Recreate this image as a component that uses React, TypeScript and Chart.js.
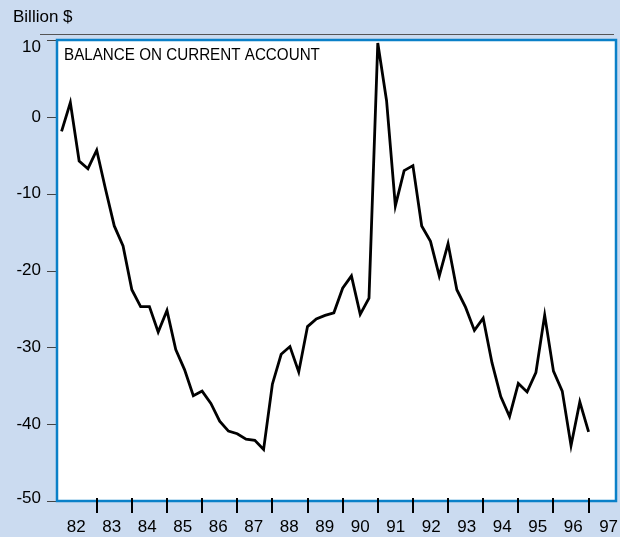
import React, { useEffect, useRef } from "react";
import { Chart, registerables } from "chart.js";

Chart.register(...registerables);

// Quarterly balance on current account, billion $, from 1982 Q1
const startYear = 82;
const balance: number[] = [
  -1.9, 1.85, -5.75, -6.75, -4.35, -9.4, -14.2, -16.8, -22.5, -24.7,
  -24.7, -28.0, -25.2, -30.3, -32.9, -36.3, -35.7, -37.3, -39.6, -40.9,
  -41.25, -41.95, -42.1, -43.3, -34.8, -30.9, -29.9, -33.2, -27.3, -26.3,
  -25.85, -25.5, -22.3, -20.7, -25.7, -23.6, 9.6, 2.1, -11.6, -7.0,
  -6.35, -14.2, -16.2, -20.7, -16.5, -22.5, -24.8, -27.8, -26.2, -32.0,
  -36.4, -39.0, -34.7, -35.8, -33.3, -25.8, -33.1, -35.7, -42.8, -37.1,
  -41.0,
];
const yearLabels: string[] = [
  "82", "83", "84", "85", "86", "87", "88", "89", "90", "91", "92", "93", "94", "95", "96", "97",
];
const yTicks: number[] = [10, 0, -10, -20, -30, -40, -50];
const unitLabel = "Billion $";
const titleText = "BALANCE ON CURRENT ACCOUNT";

const FONT = "'Liberation Sans', Arial, Helvetica, sans-serif";
const BG = "#cbdbf0";
const BLUE = "#0a80c8";

export default function App() {
  const canvasRef = useRef<HTMLCanvasElement | null>(null);

  useEffect(() => {
    const canvas = canvasRef.current;
    if (!canvas) return;
    const points = balance.map((v, i) => ({ x: startYear + i / 4, y: v }));

    const decor = {
      id: "decor",
      beforeDraw(chart: any) {
        const { ctx, chartArea: a } = chart;
        ctx.save();
        ctx.fillStyle = BG;
        ctx.fillRect(0, 0, chart.width, chart.height);
        ctx.fillStyle = "#ffffff";
        ctx.fillRect(a.left, a.top, a.right - a.left, a.bottom - a.top);
        // thin grey rule above plot
        ctx.strokeStyle = "#555555";
        ctx.lineWidth = 1;
        ctx.beginPath();
        ctx.moveTo(40, a.top - 5.5);
        ctx.lineTo(614, a.top - 5.5);
        ctx.stroke();
        // unit label
        ctx.fillStyle = "#000";
        ctx.font = `17px ${FONT}`;
        ctx.textBaseline = "middle";
        ctx.textAlign = "left";
        ctx.fillText(unitLabel, 13, 17);
        // y tick marks and labels (labels kept inside the plot box vertically)
        const ys = chart.scales.y;
        ctx.textAlign = "right";
        ctx.strokeStyle = "#444444";
        ctx.lineWidth = 1;
        for (const v of yTicks) {
          const py = ys.getPixelForValue(v);
          const tpy = Math.round(py) + 0.5;
          ctx.beginPath();
          ctx.moveTo(a.left - 10, tpy);
          ctx.lineTo(a.left, tpy);
          ctx.stroke();
          const y = Math.min(Math.max(py, a.top + 7), a.bottom - 3);
          ctx.fillText(String(v), 41, y);
        }
        ctx.restore();
      },
      afterDatasetsDraw(chart: any) {
        const { ctx, chartArea: a } = chart;
        ctx.save();
        ctx.fillStyle = "#000";
        ctx.font = `16px ${FONT}`;
        ctx.textBaseline = "middle";
        ctx.textAlign = "left";
        ctx.translate(a.left + 7, a.top + 16);
        ctx.scale(0.95, 1);
        ctx.fillText(titleText, 0, 0);
        ctx.restore();
      },
      afterDraw(chart: any) {
        const { ctx, chartArea: a } = chart;
        ctx.save();
        ctx.strokeStyle = BLUE;
        ctx.lineWidth = 2.5;
        ctx.strokeRect(a.left, a.top, a.right - a.left, a.bottom - a.top);
        // year tick marks crossing the bottom border
        const xs = chart.scales.x;
        ctx.strokeStyle = "#000";
        ctx.lineWidth = 2;
        for (let i = 1; i < yearLabels.length; i++) {
          const px = Math.round(xs.getPixelForValue(startYear + i));
          ctx.beginPath();
          ctx.moveTo(px, a.bottom - 3);
          ctx.lineTo(px, a.bottom + 12);
          ctx.stroke();
        }
        ctx.restore();
      },
    };

    const chart = new Chart(canvas, {
      type: "line",
      data: {
        datasets: [
          {
            data: points,
            borderColor: "#000000",
            borderWidth: 2.8,
            pointRadius: 0,
            tension: 0,
            borderJoinStyle: "miter",
            fill: false,
          },
        ],
      },
      options: {
        responsive: false,
        animation: false,
        devicePixelRatio: 1,
        layout: { padding: { left: 0, top: 40, right: 4, bottom: 0 } },
        plugins: { legend: { display: false }, tooltip: { enabled: false } },
        scales: {
          x: {
            type: "linear",
            min: startYear - 0.13,
            max: startYear + 15.78,
            border: { display: false },
            grid: { display: false, drawOnChartArea: false, drawTicks: false },
            afterBuildTicks: (scale: any) => {
              scale.ticks = yearLabels.map((_, i) => ({ value: startYear + i + 0.42 + i * 0.01 }));
            },
            afterFit: (scale: any) => {
              scale.height = 36;
              scale.paddingLeft = 0;
              scale.paddingRight = 0;
            },
            ticks: {
              autoSkip: false,
              maxRotation: 0,
              minRotation: 0,
              padding: 16,
              color: "#000",
              font: { family: FONT, size: 17 },
              callback: (v: any) => yearLabels[Math.floor(Number(v)) - startYear] ?? "",
            },
          },
          y: {
            type: "linear",
            min: -50,
            max: 10,
            border: { display: false },
            grid: { display: false, drawOnChartArea: false, drawTicks: false },
            afterBuildTicks: (scale: any) => {
              scale.ticks = yTicks.map((v) => ({ value: v }));
            },
            afterFit: (scale: any) => {
              scale.width = 57;
              scale.paddingTop = 0;
              scale.paddingBottom = 0;
            },
            ticks: { display: false },
          },
        },
      },
      plugins: [decor],
    });

    return () => chart.destroy();
  }, []);

  return (
    <div style={{ position: "absolute", left: 0, top: 0, width: 620, height: 537 }}>
      <canvas ref={canvasRef} width={620} height={537} style={{ display: "block" }} />
    </div>
  );
}
